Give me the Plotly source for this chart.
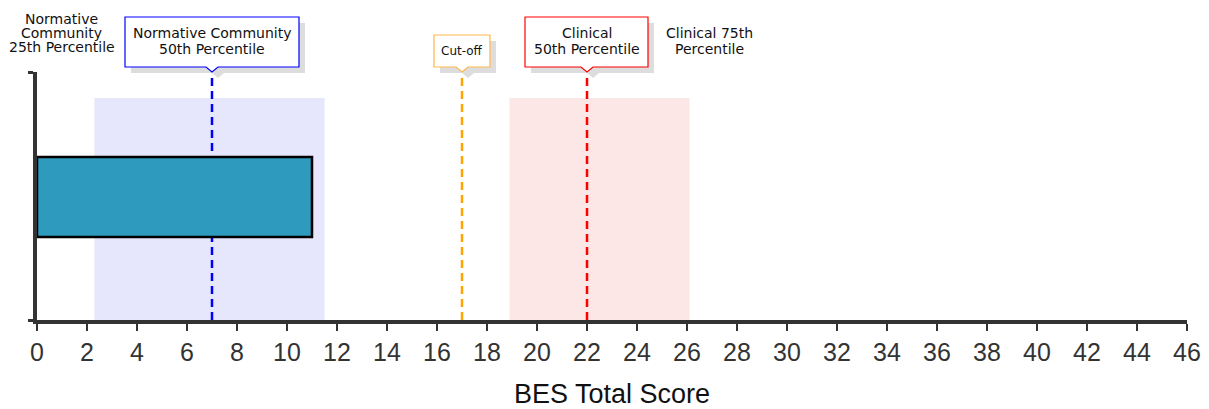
import plotly.graph_objects as go

# ---- data ----
categories = ["Patient"]
scores = [11]
norm_p25, norm_p50, norm_p75 = 2.3, 7, 11.5
cutoff = 17
clin_p25, clin_p50, clin_p75 = 18.9, 22, 26.1
x_ticks = list(range(0, 47, 2))

AXFONT = "Arial, Liberation Sans, sans-serif"
LBLFONT = "DejaVu Sans, Verdana, sans-serif"

fig = go.Figure()
fig.add_trace(go.Bar(
    x=scores, y=[0.496], orientation="h", width=0.322,
    marker=dict(color="#2E9ABD", line=dict(color="#000000", width=2.5)),
    name=categories[0], showlegend=False, hoverinfo="x",
))

shapes = [
    dict(type="rect", xref="x", yref="y", x0=norm_p25, x1=norm_p75, y0=0, y1=0.895,
         fillcolor="#E6E6FC", line=dict(width=0), layer="below"),
    dict(type="rect", xref="x", yref="y", x0=clin_p25, x1=clin_p75, y0=0, y1=0.895,
         fillcolor="#FDE6E6", line=dict(width=0), layer="below"),
]
for xv, col in [(norm_p50, "#0000FF"), (cutoff, "#FFA500"), (clin_p50, "#FF0000")]:
    shapes.append(dict(type="line", xref="x", yref="y", x0=xv, x1=xv, y0=0, y1=1,
                       line=dict(color=col, width=2.5, dash="8px,5px"), layer="below"))


def callout_path(left, right, top, bottom=5, notch=6, dx=0, dy=0):
    pts = [(left, top), (right, top), (right, bottom), (notch, bottom), (0, 0),
           (-notch, bottom), (left, bottom)]
    return "M " + " L ".join(f"{x + dx},{y + dy}" for x, y in pts) + " Z"


# (value, lines, border colour, left px, right px, top px, font size, line centres px from top of page)
callouts = [
    (norm_p50, ["Normative Community", "50th Percentile"], "#0000FF", -87, 87, 55, 14, [33, 49]),
    (cutoff, ["Cut-off"], "#FFB84D", -28, 28, 37, 12, [51]),
    (clin_p50, ["Clinical", "50th Percentile"], "#FF0000", -62, 61, 55, 14, [33, 49]),
]
annotations = []
AXIS_TOP_PX = 72
for xv, lines, col, l, r, t, fs, centres in callouts:
    shapes.append(dict(type="path", xref="x", yref="paper", xsizemode="pixel", ysizemode="pixel",
                       xanchor=xv, yanchor=1, path=callout_path(l, r, t, dx=6, dy=-6),
                       fillcolor="#DDDDDD", line=dict(width=0), layer="above"))
    shapes.append(dict(type="path", xref="x", yref="paper", xsizemode="pixel", ysizemode="pixel",
                       xanchor=xv, yanchor=1, path=callout_path(l, r, t),
                       fillcolor="#FFFFFF", line=dict(color=col, width=1.2), layer="above"))
    for line, c in zip(lines, centres):
        annotations.append(dict(
            x=xv, y=1, xref="x", yref="y", yshift=AXIS_TOP_PX - c, text=line,
            showarrow=False, xanchor="center", yanchor="middle",
            font=dict(family=LBLFONT, size=fs, color="#111111"),
        ))

plain_labels = [
    (norm_p25, -33, ["Normative", "Community", "25th Percentile"], [19, 33, 47]),
    (clin_p75, 20, ["Clinical 75th", "Percentile"], [33, 49]),
]
for xv, xs, lines, centres in plain_labels:
    for line, c in zip(lines, centres):
        annotations.append(dict(
            x=xv, y=1, xref="x", yref="y", xshift=xs, yshift=AXIS_TOP_PX - c, text=line,
            showarrow=False, xanchor="center", yanchor="middle",
            font=dict(family=LBLFONT, size=14, color="#111111"),
        ))

fig.update_layout(
    shapes=shapes,
    annotations=annotations,
    width=1201, height=401,
    margin=dict(l=29, r=22, t=64, b=89, autoexpand=False),
    plot_bgcolor="#FFFFFF", paper_bgcolor="#FFFFFF",
    font=dict(family=AXFONT),
    xaxis=dict(
        range=[0, 46], tickvals=x_ticks, ticktext=[str(t) for t in x_ticks],
        showgrid=False, zeroline=False, automargin=False,
        showline=True, linecolor="#333333", linewidth=4,
        ticks="outside", ticklen=7, tickwidth=2, tickcolor="#333333",
        tickfont=dict(family=AXFONT, size=25, color="#333333"),
        title=dict(text="BES Total Score", font=dict(family=AXFONT, size=27, color="#111111"), standoff=24),
    ),
    yaxis=dict(
        range=[0, 1], tickvals=[0, 1], showticklabels=False,
        showgrid=False, zeroline=False, automargin=False,
        showline=True, linecolor="#333333", linewidth=4,
        ticks="outside", ticklen=5, tickwidth=3, tickcolor="#333333",
    ),
)

fig.write_html("out.html")
